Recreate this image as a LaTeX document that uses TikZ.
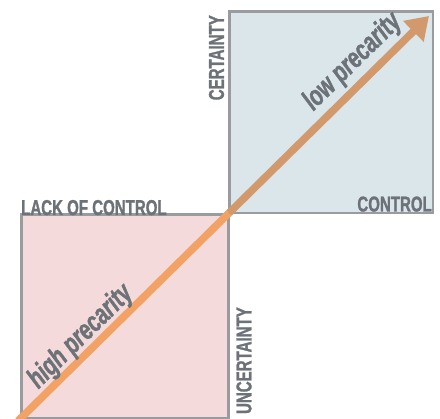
\documentclass[tikz,border=0pt]{standalone}
\usepackage{fontspec}
\newfontfamily\condfont{Liberation Sans}[FakeStretch=0.7, FakeBold=1.2,
  UprightFont=* Bold, ItalicFont=* Bold Italic, BoldFont=* Bold, BoldItalicFont=* Bold Italic]
\usetikzlibrary{arrows.meta}
\definecolor{boxgray}{HTML}{999B9C}
\definecolor{txtgray}{HTML}{6C7277}
\definecolor{pinkfill}{HTML}{F4DADA}
\definecolor{bluefill}{HTML}{DAE6EA}
\definecolor{lineorange}{HTML}{F2A264}
\definecolor{linetan}{HTML}{D29A6C}
\tikzset{
  axislbl/.style={text=txtgray, font=\condfont\fontsize{21.5}{21.5}\selectfont, inner sep=0pt},
  precarity/.style={text=txtgray, font=\condfont\itshape\fontsize{29}{29}\selectfont, inner sep=1pt, sloped, above}
}
\begin{document}
\begin{tikzpicture}[x=1pt,y=-1pt]
  \useasboundingbox (0,0) rectangle (440,419);
  \draw[boxgray, line width=2.5pt, fill=pinkfill] (21.5,214.5) rectangle (228.5,418);
  \draw[boxgray, line width=2.5pt, fill=bluefill] (229.5,11.5) rectangle (433,213);
  \coordinate (start) at (18,421);
  \coordinate (mid) at (229,213);
  \coordinate (tip) at (429,16);
  \draw[lineorange, line width=7.5pt] (start) -- (mid);
  \draw[linetan, line width=7.5pt, -{Triangle[length=22pt,width=28pt]}] (mid) -- (tip);
  \path (start) -- (tip) node[precarity, pos=0.18, yshift=1pt] (high) {high precarity};
  \path (start) -- (tip) node[precarity, pos=0.85, yshift=6pt] (low) {low precarity};
  \node[axislbl, rotate=90, anchor=east] (certainty) at (216.5,15) {CERTAINTY};
  \node[axislbl, rotate=90, anchor=east] (uncertainty) at (244,307) {UNCERTAINTY};
  \node[axislbl, anchor=base east] (control) at (432,211.5) {CONTROL};
  \node[axislbl, anchor=base west] (lack) at (21,215) {LACK OF CONTROL};
\end{tikzpicture}
\end{document}
